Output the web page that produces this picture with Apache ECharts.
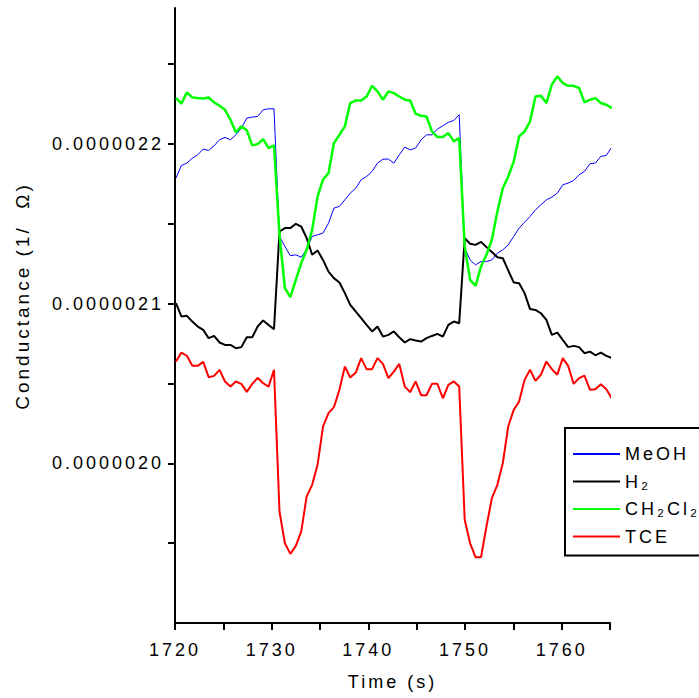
<!DOCTYPE html>
<html><head><meta charset="utf-8">
<script src="https://cdn.jsdelivr.net/npm/echarts@6/dist/echarts.min.js"></script>
<style>
html,body{margin:0;padding:0;background:#fff;}
#chart{width:699px;height:698px;}
#chart text{letter-spacing:3px;}
</style></head><body><div id="chart"></div>
<script>
// Sample times (s)
const time = [1720.10,1720.66,1721.23,1721.79,1722.35,1722.92,1723.48,1724.04,1724.61,1725.17,
1725.74,1726.30,1726.86,1727.43,1727.99,1728.55,1729.12,1729.68,1730.24,1730.81,
1731.37,1731.93,1732.50,1733.06,1733.62,1734.19,1734.75,1735.31,1735.88,1736.44,
1737.01,1737.57,1738.13,1738.70,1739.26,1739.82,1740.39,1740.95,1741.51,1742.08,
1742.64,1743.20,1743.77,1744.33,1744.89,1745.46,1746.02,1746.58,1747.15,1747.71,
1748.28,1748.84,1749.40,1749.97,1750.53,1751.09,1751.66,1752.22,1752.78,1753.35,
1753.91,1754.47,1755.04,1755.60,1756.16,1756.73,1757.29,1757.85,1758.42,1758.98,
1759.55,1760.11,1760.67,1761.24,1761.80,1762.36,1762.93,1763.49,1764.05,1764.62,
1765.18];

// Conductance values (1/Ω)
const meoh = [2.1785e-6,2.1864e-6,2.1879e-6,2.1910e-6,2.1931e-6,2.1967e-6,2.1958e-6,2.1987e-6,2.2025e-6,2.2040e-6,
2.2025e-6,2.2056e-6,2.2098e-6,2.2161e-6,2.2167e-6,2.2171e-6,2.2213e-6,2.2219e-6,2.2219e-6,2.1420e-6,
2.1357e-6,2.1299e-6,2.1305e-6,2.1290e-6,2.1340e-6,2.1420e-6,2.1430e-6,2.1441e-6,2.1503e-6,2.1597e-6,
2.1608e-6,2.1649e-6,2.1691e-6,2.1722e-6,2.1775e-6,2.1795e-6,2.1827e-6,2.1879e-6,2.1904e-6,2.1904e-6,
2.1879e-6,2.1931e-6,2.1979e-6,2.1962e-6,2.1973e-6,2.2025e-6,2.2056e-6,2.2056e-6,2.2092e-6,2.2113e-6,
2.2134e-6,2.2146e-6,2.2182e-6,2.1347e-6,2.1273e-6,2.1242e-6,2.1263e-6,2.1263e-6,2.1273e-6,2.1315e-6,
2.1336e-6,2.1367e-6,2.1420e-6,2.1472e-6,2.1509e-6,2.1545e-6,2.1587e-6,2.1618e-6,2.1649e-6,2.1666e-6,
2.1691e-6,2.1743e-6,2.1754e-6,2.1770e-6,2.1806e-6,2.1827e-6,2.1875e-6,2.1879e-6,2.1921e-6,2.1927e-6,
2.1979e-6];

const h2 = [2.1002e-6,2.0919e-6,2.0923e-6,2.0887e-6,2.0856e-6,2.0835e-6,2.0783e-6,2.0797e-6,2.0756e-6,2.0741e-6,
2.0741e-6,2.0720e-6,2.0727e-6,2.0789e-6,2.0789e-6,2.0856e-6,2.0894e-6,2.0866e-6,2.0839e-6,2.1451e-6,
2.1472e-6,2.1472e-6,2.1499e-6,2.1482e-6,2.1409e-6,2.1305e-6,2.1332e-6,2.1273e-6,2.1200e-6,2.1159e-6,
2.1132e-6,2.1065e-6,2.0992e-6,2.0950e-6,2.0908e-6,2.0866e-6,2.0825e-6,2.0856e-6,2.0793e-6,2.0804e-6,
2.0825e-6,2.0789e-6,2.0756e-6,2.0777e-6,2.0768e-6,2.0762e-6,2.0783e-6,2.0797e-6,2.0810e-6,2.0793e-6,
2.0866e-6,2.0887e-6,2.0877e-6,2.1409e-6,2.1374e-6,2.1367e-6,2.1386e-6,2.1353e-6,2.1322e-6,2.1290e-6,
2.1284e-6,2.1207e-6,2.1132e-6,2.1127e-6,2.1065e-6,2.0965e-6,2.0960e-6,2.0939e-6,2.0898e-6,2.0804e-6,
2.0818e-6,2.0772e-6,2.0727e-6,2.0735e-6,2.0727e-6,2.0689e-6,2.0699e-6,2.0676e-6,2.0693e-6,2.0672e-6,
2.0660e-6];

const ch2cl2 = [2.2286e-6,2.2251e-6,2.2322e-6,2.2290e-6,2.2286e-6,2.2284e-6,2.2290e-6,2.2259e-6,2.2238e-6,2.2213e-6,
2.2150e-6,2.2071e-6,2.2109e-6,2.2084e-6,2.1990e-6,2.1998e-6,2.2029e-6,2.1973e-6,2.1990e-6,2.1430e-6,
2.1096e-6,2.1040e-6,2.1148e-6,2.1253e-6,2.1336e-6,2.1461e-6,2.1670e-6,2.1775e-6,2.1816e-6,2.2004e-6,
2.2056e-6,2.2109e-6,2.2255e-6,2.2271e-6,2.2271e-6,2.2296e-6,2.2363e-6,2.2328e-6,2.2276e-6,2.2328e-6,
2.2317e-6,2.2296e-6,2.2276e-6,2.2271e-6,2.2188e-6,2.2175e-6,2.2171e-6,2.2077e-6,2.2042e-6,2.2042e-6,
2.2067e-6,2.2015e-6,2.2035e-6,2.1357e-6,2.1148e-6,2.1111e-6,2.1232e-6,2.1305e-6,2.1399e-6,2.1576e-6,
2.1722e-6,2.1795e-6,2.1889e-6,2.2046e-6,2.2077e-6,2.2140e-6,2.2296e-6,2.2301e-6,2.2255e-6,2.2370e-6,
2.2422e-6,2.2380e-6,2.2363e-6,2.2363e-6,2.2349e-6,2.2259e-6,2.2276e-6,2.2286e-6,2.2255e-6,2.2244e-6,
2.2223e-6];

const tce = [2.0637e-6,2.0693e-6,2.0673e-6,2.0610e-6,2.0610e-6,2.0635e-6,2.0539e-6,2.0547e-6,2.0585e-6,2.0512e-6,
2.0480e-6,2.0512e-6,2.0497e-6,2.0447e-6,2.0497e-6,2.0535e-6,2.0501e-6,2.0480e-6,2.0585e-6,1.9698e-6,
1.9499e-6,1.9433e-6,1.9483e-6,1.9573e-6,1.9792e-6,1.9865e-6,1.9990e-6,2.0230e-6,2.0314e-6,2.0351e-6,
2.0460e-6,2.0606e-6,2.0537e-6,2.0568e-6,2.0658e-6,2.0589e-6,2.0589e-6,2.0658e-6,2.0622e-6,2.0533e-6,
2.0574e-6,2.0622e-6,2.0480e-6,2.0445e-6,2.0512e-6,2.0426e-6,2.0426e-6,2.0497e-6,2.0497e-6,2.0407e-6,
2.0491e-6,2.0512e-6,2.0480e-6,1.9646e-6,1.9499e-6,1.9412e-6,1.9412e-6,1.9604e-6,1.9781e-6,1.9865e-6,
2.0000e-6,2.0230e-6,2.0334e-6,2.0387e-6,2.0522e-6,2.0585e-6,2.0516e-6,2.0554e-6,2.0637e-6,2.0589e-6,
2.0554e-6,2.0658e-6,2.0610e-6,2.0497e-6,2.0533e-6,2.0549e-6,2.0460e-6,2.0464e-6,2.0495e-6,2.0464e-6,
2.0407e-6];

const seriesNames = ['MeOH', 'H\u2082', 'CH\u2082Cl\u2082', 'TCE'];
const xLabelValues = [1720, 1730, 1740, 1750, 1760];
const xTickValues = [1720, 1725, 1730, 1735, 1740, 1745, 1750, 1755, 1760, 1765];
const yLabelValues = [2.0e-6, 2.1e-6, 2.2e-6];
const yTickValues = [1.95e-6, 2.0e-6, 2.05e-6, 2.1e-6, 2.15e-6, 2.2e-6, 2.25e-6];
const yRange = [1.9e-6, 2.285e-6];

// The axis works internally in µS (1e-6 of 1/Ω) to avoid tiny-float issues; labels show 1/Ω.
const U = 1e6;
const toU = v => Math.round(v * U * 1e6) / 1e6;

const FONT = "'Liberation Sans', Arial, sans-serif";
const chart = echarts.init(document.getElementById('chart'), null, {renderer: 'svg'});

function pairs(vals) { return time.map((t, i) => [t, toU(vals[i])]); }

const colors = ['#0000ff', '#000000', '#00ff00', '#ff0000'];
const widths = [1, 2, 2.5, 2];
const allVals = [meoh, h2, ch2cl2, tce];

chart.setOption({
  animation: false,
  backgroundColor: '#ffffff',
  textStyle: {fontFamily: FONT},
  grid: {left: 175, right: 89, top: 8, bottom: 75},
  xAxis: {
    type: 'value', min: 1720, max: 1765, interval: 5,
    name: 'Time (s)', nameLocation: 'middle', nameGap: 50,
    nameTextStyle: {fontSize: 18, color: '#000', fontFamily: FONT},
    axisLine: {show: true, lineStyle: {color: '#000', width: 2}},
    axisTick: {show: true, length: 7, inside: false, lineStyle: {color: '#000', width: 2}, customValues: xTickValues},
    axisLabel: {fontSize: 18, color: '#000', margin: 18, fontFamily: FONT, customValues: xLabelValues,
      formatter: v => (v % 10 === 0 ? String(v) : '')},
    splitLine: {show: false}
  },
  yAxis: {
    type: 'value', min: toU(yRange[0]), max: toU(yRange[1]), interval: 0.05,
    axisLine: {show: true, lineStyle: {color: '#000', width: 2}},
    axisTick: {show: true, length: 7, inside: false, lineStyle: {color: '#000', width: 2},
      customValues: yTickValues.map(toU)},
    axisLabel: {fontSize: 18, color: '#000', margin: 11, fontFamily: FONT,
      customValues: yLabelValues.map(toU),
      formatter: v => {
        const k = v * 10;
        return Math.abs(k - Math.round(k)) < 1e-6 && Math.round(k) >= 20 ? (v / U).toFixed(7) : '';
      }},
    splitLine: {show: false}
  },
  legend: {
    orient: 'vertical', left: 565, top: 428,
    padding: [17, 40, 10, 8], itemGap: 9.5, itemWidth: 47, itemHeight: 2,
    icon: 'rect', borderColor: '#000', borderWidth: 2, borderRadius: 0,
    backgroundColor: '#fff',
    textStyle: {fontSize: 18, color: '#000', fontFamily: FONT},
    data: seriesNames
  },
  graphic: [{
    type: 'text', x: 22, y: 296, rotation: Math.PI / 2,
    style: {text: 'Conductance (1/  \u03A9)', fontSize: 19, fill: '#000', fontFamily: FONT,
      align: 'center', verticalAlign: 'middle'}
  }],
  series: seriesNames.map((n, k) => ({
    name: n, type: 'line', data: pairs(allVals[k]),
    showSymbol: false, symbol: 'none',
    lineStyle: {color: colors[k], width: widths[k]},
    itemStyle: {color: colors[k]},
    z: 2 + k
  }))
});
</script></body></html>
